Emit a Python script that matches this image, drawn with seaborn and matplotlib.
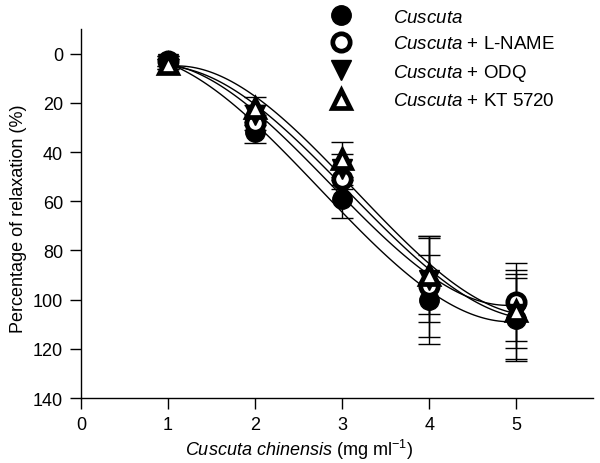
import matplotlib
matplotlib.use("Agg")
import matplotlib.pyplot as plt
import seaborn as sns

sns.set_style("ticks")
plt.rcParams['font.family'] = ['Liberation Sans', 'DejaVu Sans']
plt.rcParams['mathtext.fontset'] = 'custom'
plt.rcParams['mathtext.rm'] = 'Liberation Sans'
plt.rcParams['mathtext.it'] = 'Liberation Sans:italic'
plt.rcParams['text.color'] = 'black'
plt.rcParams['axes.labelcolor'] = 'black'

# concentration (mg/ml)
conc = [1, 2, 3, 4, 5]

cuscuta = [3, 32, 59, 100, 108]
cuscuta_err = [2, 4.4, 7.7, 18, 17]
lname = [3, 28, 51, 94.5, 101]
lname_err = [2, 3, 4, 20.5, 16]
odq = [4, 25, 47, 92, 106]
odq_err = [2, 4, 6.3, 17, 18]
kt = [4, 22, 43, 90, 104.5]
kt_err = [2, 4.5, 7.3, 16, 15]

labels = [r'$\mathit{Cuscuta}$',
          r'$\mathit{Cuscuta}$ + L-NAME',
          r'$\mathit{Cuscuta}$ + ODQ',
          r'$\mathit{Cuscuta}$ + KT 5720']

fig = plt.figure(figsize=(6, 4.64), dpi=100)
ax = fig.add_axes([0.135, 0.14, 0.853, 0.795])

series = [
    (cuscuta, cuscuta_err, dict(marker='o', mfc='black', ms=14, mew=1)),
    (lname, lname_err, dict(marker='o', mfc='white', ms=12.5, mew=3.4)),
    (odq, odq_err, dict(marker='v', mfc='black', ms=14, mew=1)),
    (kt, kt_err, dict(marker='^', mfc='white', ms=12.5, mew=3.4)),
]

handles = []
for (vals, err, style), lab in zip(series, labels):
    sns.regplot(x=conc, y=vals, order=3, ci=None, scatter=False, ax=ax,
                line_kws=dict(color='black', lw=1.0))
    ax.errorbar(conc, vals, yerr=err, fmt='none', ecolor='black',
                elinewidth=1.0, capsize=8, capthick=1.0, zorder=3)
    h, = ax.plot(conc, vals, linestyle='none', mec='black', zorder=4,
                 label=lab, **style)
    handles.append(h)

ax.set_xlim(0, 5.88)
ax.set_ylim(140, -10)
ax.set_xticks([0, 1, 2, 3, 4, 5])
ax.set_yticks([0, 20, 40, 60, 80, 100, 120, 140])
ax.tick_params(axis='both', direction='out', length=8, width=1,
               labelsize=13, color='black', labelcolor='black', pad=5)
for s in ['top', 'right']:
    ax.spines[s].set_visible(False)
for s in ['left', 'bottom']:
    ax.spines[s].set_linewidth(1.0)
    ax.spines[s].set_color('black')

ax.set_xlabel(r'$\mathit{Cuscuta\ chinensis}$ (mg ml$^{-1}$)', fontsize=13)
ax.xaxis.set_label_coords(2.5 / 5.88, -0.105)
ax.set_ylabel('Percentage of relaxation (%)', fontsize=13)
ax.yaxis.set_label_coords(-0.105, 0.488)

fig.legend(handles=handles, loc='upper left', bbox_to_anchor=(0.54, 0.995),
           frameon=False, fontsize=13.5, handletextpad=2.3, labelspacing=0.5,
           borderaxespad=0, handlelength=1.0, labelcolor='black')

fig.savefig('out.png', dpi=100)
